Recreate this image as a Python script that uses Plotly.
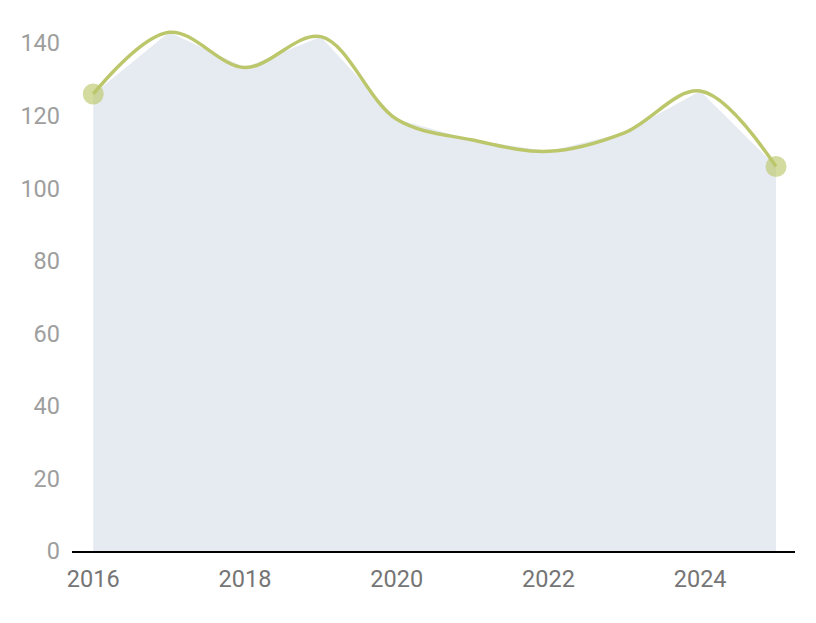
import plotly.graph_objects as go

years = [2016, 2017, 2018, 2019, 2020, 2021, 2022, 2023, 2024, 2025]
values = [126, 143, 133.3, 141.8, 119.0, 113.3, 110.2, 115.3, 126.8, 106]
x_ticks = [2016, 2018, 2020, 2022, 2024]
y_ticks = [0, 20, 40, 60, 80, 100, 120, 140]

line_color = "#bcc76c"
fig = go.Figure()
fig.add_trace(go.Scatter(x=years, y=values, mode="lines", fill="tozeroy",
                         fillcolor="#e6ebf2", line=dict(width=0), hoverinfo="skip"))
fig.add_trace(go.Scatter(x=[years[0], years[-1]], y=[values[0], values[-1]], mode="markers",
                         marker=dict(size=21, color="rgba(188,199,108,0.65)", line=dict(width=0))))
fig.add_trace(go.Scatter(x=years, y=values, mode="lines",
                         line=dict(color=line_color, width=3.5, shape="spline", smoothing=1)))

fig.update_layout(
    width=816, height=623,
    margin=dict(l=64, r=29, t=0, b=80),
    paper_bgcolor="white", plot_bgcolor="white",
    showlegend=False,
    font=dict(family="Roboto", size=23.5),
    xaxis=dict(range=[2015.72, 2025.25], tickvals=x_ticks, showgrid=False, zeroline=False,
               showline=True, linecolor="black", linewidth=2, ticks="",
               tickfont=dict(color="#757575", size=23.5), ticklabelstandoff=6),
    yaxis=dict(range=[0, 149.7], tickvals=y_ticks, showgrid=False, zeroline=False,
               showline=False, ticks="", tickfont=dict(color="#9e9e9e", size=23.5),
               ticklabelstandoff=11),
)
fig.write_html("out.html")
